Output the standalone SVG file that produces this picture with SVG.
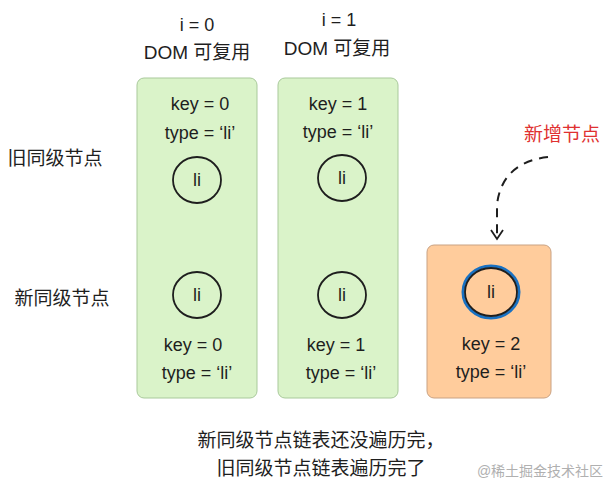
<svg xmlns="http://www.w3.org/2000/svg" width="609" height="494" viewBox="0 0 609 494">
<defs>
<style>
text{font-family:"Liberation Sans","Noto Sans CJK SC",sans-serif;font-size:18px;fill:#1e1e1e;text-anchor:middle}
.zh{font-size:19px}
.g{fill:#daf3c9;stroke:#a9c99b;stroke-width:1}
.o{fill:#ffcc9c;stroke:#c9a283;stroke-width:1}
.c{fill:none;stroke:#1e1e1e;stroke-width:1.8}
.red{fill:#e03131}
.wm{fill:#b0b0b0;font-size:14px}
</style>
<marker id="ah" markerWidth="14" markerHeight="14" refX="12" refY="7" orient="auto" markerUnits="userSpaceOnUse" viewBox="0 0 14 14">
<path d="M3,1 L12,7 L3,13" fill="none" stroke="#1e1e1e" stroke-width="1.8"/>
</marker>
</defs>
<rect width="609" height="494" fill="#fff"/>
<g id="label-i0"><text x="197" y="31">i = 0</text><text x="197" y="59" class="zh">DOM 可复用</text></g>
<g id="label-i1"><text x="339" y="26">i = 1</text><text x="337" y="55" class="zh">DOM 可复用</text></g>
<g id="row-old"><text x="55" y="165" class="zh">旧同级节点</text></g>
<g id="row-new"><text x="62" y="305" class="zh">新同级节点</text></g>
<g id="label-added"><text x="562" y="141" class="red zh">新增节点</text></g>
<g id="col0">
<rect class="g" x="137" y="78" width="120" height="320" rx="7"/>
<text x="200" y="110">key = 0</text><text x="200" y="139">type = ‘li’</text>
<ellipse class="c" cx="197" cy="180" rx="24" ry="23"/><text x="197" y="186">li</text>
<ellipse class="c" cx="197" cy="295" rx="24" ry="23"/><text x="197" y="301">li</text>
<text x="193" y="351">key = 0</text><text x="197" y="379">type = ‘li’</text>
</g>
<g id="col1">
<rect class="g" x="278" y="78" width="120" height="320" rx="7"/>
<text x="338" y="110">key = 1</text><text x="338" y="138">type = ‘li’</text>
<ellipse class="c" cx="342" cy="178" rx="24" ry="23"/><text x="342" y="184">li</text>
<ellipse class="c" cx="342" cy="295" rx="24" ry="23"/><text x="342" y="301">li</text>
<text x="336" y="351">key = 1</text><text x="341" y="379">type = ‘li’</text>
</g>
<g id="col2">
<rect class="o" x="427" y="245" width="124" height="153" rx="7"/>
<ellipse cx="491" cy="292" rx="28" ry="26" fill="none" stroke="#1971c2" stroke-width="3"/>
<ellipse class="c" cx="491" cy="292" rx="26" ry="24" stroke-width="1.3"/>
<text x="491" y="298">li</text>
<text x="491" y="350">key = 2</text><text x="491" y="378">type = ‘li’</text>
</g>
<g id="connectors">
<path d="M548,157 C520,160 500,175 497,205 L497,239" fill="none" stroke="#1e1e1e" stroke-width="2" stroke-dasharray="9,7" marker-end="url(#ah)"/>
</g>
<g id="caption">
<text x="321" y="447" class="zh">新同级节点链表还没遍历完，</text>
<text x="321" y="475" class="zh">旧同级节点链表遍历完了</text>
</g>
<text x="540" y="476" class="wm">@稀土掘金技术社区</text>
</svg>
